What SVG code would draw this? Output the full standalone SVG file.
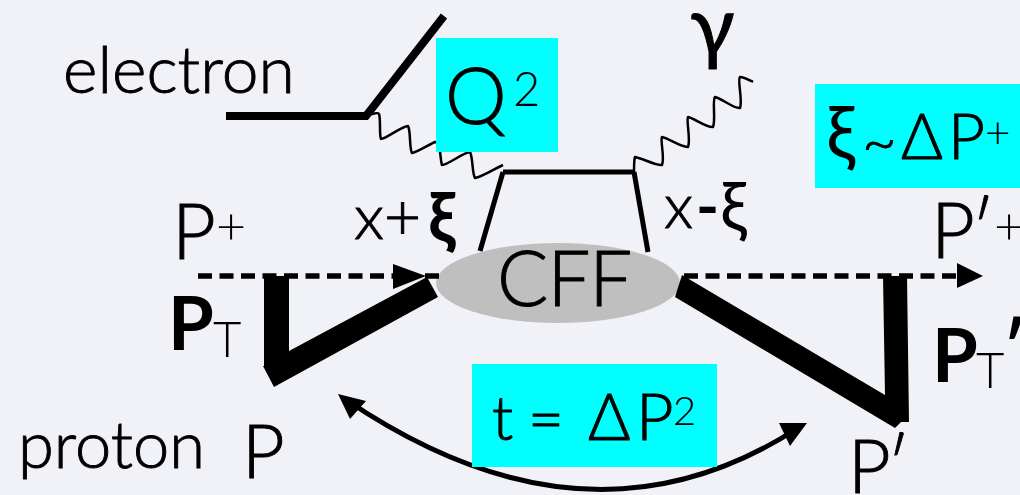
<svg xmlns="http://www.w3.org/2000/svg" width="1020" height="495" viewBox="0 0 1020 495">
<style>
text{font-family:"Lato","Open Sans","Liberation Sans",sans-serif;fill:#000;font-weight:400}
.b{font-weight:700}
.l{font-weight:300}
.m{font-weight:300;stroke:#000;stroke-width:.9}
.box{fill:#00ffff}
.wave{fill:none;stroke:#000;stroke-width:2.5;stroke-linejoin:round}
.q{fill:none;stroke:#000;stroke-width:5}
.dash{fill:none;stroke:#000;stroke-width:5.5;stroke-dasharray:14 7.5}
</style>
<rect width="1020" height="495" fill="#f1f2f7"/>
<g id="connectors">
<path d="M226 116H366L444 16" fill="none" stroke="#000" stroke-width="8" stroke-linejoin="miter"/>
<path class="wave" d="M366 116C372 114 378 112 379 114C381 120 379 134 381 139C386 139 402 126 408 126C411 131 409 148 412 153C418 152 430 144 435 142C441 142 440 160 442 165C448 165 464 152 470 152C473 157 472 174 475 178C482 177 496 168 503 165"/>
<path class="wave" d="M634 172C634 165 634 160 635 157C642 158 656 166 662 165C665 158 660 140 662 137C668 138 682 148 688 147C691 140 686 120 688 117C694 118 707 128 713 127C716 120 712 100 715 97C721 98 734 109 740 108C743 100 737 80 740 77C744 77 749 80 753 82"/>
<path class="q" d="M503 172H634M503 172L480 251M634 172L648 252"/>
</g>
<g id="cff-shape"><ellipse cx="558" cy="283" rx="122" ry="40" fill="#bfbfbf"/></g>
<g id="flows">
<path class="dash" d="M198 276H404"/><path class="dash" d="M425 276H440"/>
<path d="M393 264L426 276L393 289Z"/>
<path class="dash" d="M684 276H960"/>
<path d="M957 263L983 276L957 288Z"/>
</g>
<g id="proton-in"><path d="M264 276H289V351L427 277L438 297L274 387L263 366L264 366Z"/></g>
<g id="proton-out"><path d="M682 275L885 395L883 276H907L909 422L901 422L895 428L675 297Z"/></g>
<path d="M345 399Q588 564 798 428" fill="none" stroke="#000" stroke-width="5"/>
<path d="M338 394L366 401L350 419Z"/>
<path d="M807 423L779 423L790 446Z"/>
<g id="q2"><rect class="box" x="436" y="38" width="122" height="114"/>
<text class="m" x="445" y="124" font-size="78">Q</text><text class="l" x="513" y="106" font-size="47">2</text></g>
<g id="xi"><rect class="box" x="815" y="84" width="205" height="104"/>
<text x="826" y="159" font-size="74">ξ</text><text class="m" x="862" y="162" font-size="60">~</text><text class="m" x="901" y="159" font-size="64">Δ</text><text class="m" x="948" y="159" font-size="64">P</text><text class="l" x="985" y="148" font-size="44">+</text></g>
<g id="tbox"><rect class="box" x="472" y="364" width="245" height="103"/>
<text class="m" x="492" y="440" font-size="62">t</text><text class="m" x="528" y="441" font-size="62">=</text><text class="m" x="588" y="440" font-size="65">Δ</text><text class="m" x="636" y="440" font-size="65">P</text><text class="l" x="673" y="425" font-size="40">2</text></g>
<g id="labels">
<text class="m" x="63" y="93" font-size="66">electron</text>
<text x="690" y="55" font-size="82" stroke="#000" stroke-width="1">γ</text>
<text class="m" x="172" y="259" font-size="76">P</text><text class="l" x="216" y="244" font-size="52">+</text>
<text x="168" y="350" font-size="74" class="b">P</text><text class="l" x="213" y="357" font-size="49">T</text>
<text class="m" x="354" y="239" font-size="64">x+</text><text x="428" y="242" font-size="68" class="b">ξ</text>
<text class="m" x="664" y="228" font-size="62">x</text><text x="696" y="228" font-size="62" class="b">-</text><text x="720" y="231" font-size="68">ξ</text>
<text class="m" x="931" y="258" font-size="76">P<tspan dx="-4">′</tspan></text><text class="l" x="994" y="244" font-size="52">+</text>
<text x="932" y="382" font-size="74" class="b">P</text><text class="l" x="976" y="388" font-size="49">T</text><text x="1003" y="372" font-size="68" class="b">′</text>
<text class="m" x="18" y="468" font-size="65">proton</text><text class="m" x="242" y="478" font-size="74">P</text>
<text class="m" x="848" y="493" font-size="74">P<tspan dx="-4">′</tspan></text>
<text class="m" x="497" y="306" font-size="76" letter-spacing="-1">CFF</text>
</g>
</svg>
